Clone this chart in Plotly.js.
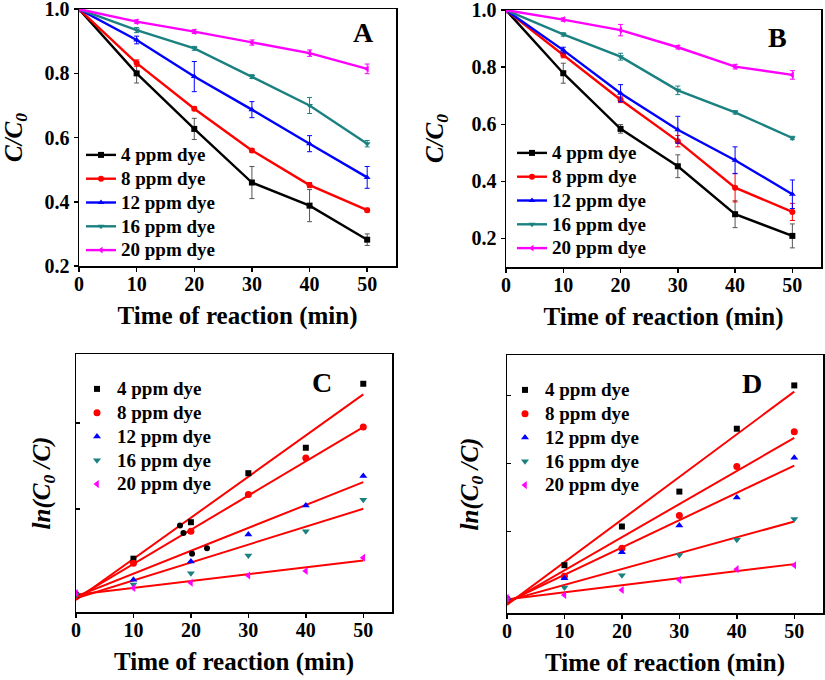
<!DOCTYPE html>
<html>
<head>
<meta charset="utf-8">
<script src="https://cdn.plot.ly/plotly-3.0.1.min.js"></script>
<style>html,body{margin:0;padding:0;background:#fff;}#chart{width:825px;height:680px;}</style>
</head>
<body>
<div id="chart"></div>
<script>
// ---------- shared ----------
const times = [0, 10, 20, 30, 40, 50];
const seriesNames = ['4 ppm dye', '8 ppm dye', '12 ppm dye', '16 ppm dye', '20 ppm dye'];
const seriesColors = ['#000000', '#ff0000', '#0000ff', '#1b8080', '#ff00ff'];
const errColors = ['#555555', '#ff0000', '#0000ff', '#1b8080', '#ff00ff'];
const seriesSymbols = ['square', 'circle', 'triangle-up', 'triangle-down', 'triangle-left'];

// ---------- panel A : C/C0 ----------
const a4 = [1.0, 0.800, 0.627, 0.460, 0.388, 0.282];
const a8 = [1.0, 0.832, 0.690, 0.560, 0.452, 0.374];
const a12 = [1.0, 0.904, 0.790, 0.687, 0.581, 0.476];
const a16 = [1.0, 0.935, 0.878, 0.790, 0.700, 0.581];
const a20 = [1.0, 0.961, 0.930, 0.896, 0.863, 0.814];
const aErr4 = [0, 0.030, 0.033, 0.050, 0.050, 0.018];
const aErr8 = [0, 0.010, 0.006, 0.006, 0.008, 0.006];
const aErr12 = [0, 0.012, 0.047, 0.025, 0.025, 0.034];
const aErr16 = [0, 0.008, 0.006, 0.006, 0.025, 0.010];
const aErr20 = [0, 0.006, 0.006, 0.008, 0.010, 0.015];

// ---------- panel B : C/C0 ----------
const b4 = [1.0, 0.779, 0.584, 0.453, 0.285, 0.209];
const b8 = [1.0, 0.843, 0.686, 0.541, 0.378, 0.293];
const b12 = [1.0, 0.860, 0.709, 0.581, 0.474, 0.355];
const b16 = [1.0, 0.915, 0.837, 0.719, 0.642, 0.552];
const b20 = [1.0, 0.967, 0.930, 0.870, 0.802, 0.773];
const bErr4 = [0, 0.035, 0.015, 0.040, 0.047, 0.042];
const bErr8 = [0, 0.010, 0.010, 0.020, 0.050, 0.030];
const bErr12 = [0, 0.010, 0.030, 0.047, 0.047, 0.050];
const bErr16 = [0, 0.006, 0.012, 0.015, 0.006, 0.006];
const bErr20 = [0, 0.006, 0.020, 0.006, 0.008, 0.015];

// ---------- panel C : ln(C0/C) ----------
const c4 = [0.0, 0.210, 0.422, 0.707, 0.855, 1.227];
const c8 = [0.0, 0.184, 0.370, 0.583, 0.795, 0.975];
const c12 = [0.01, 0.087, 0.194, 0.351, 0.519, 0.690];
const c16 = [0.0, 0.060, 0.126, 0.229, 0.370, 0.552];
const c20 = [0.01, 0.040, 0.070, 0.112, 0.138, 0.215];
const cExtraX = [18.1, 18.7, 20.2, 22.8];
const cExtraY = [0.403, 0.359, 0.238, 0.271];
const fitX = [0, 50];
const cFitStart = [-0.03, -0.02, -0.01, -0.02, 0.0];
const cFitEnd = [1.165, 0.975, 0.655, 0.500, 0.200];

// ---------- panel D : ln(C0/C) ----------
const d4 = [0.0, 0.252, 0.537, 0.794, 1.257, 1.576];
const d8 = [0.0, 0.171, 0.377, 0.618, 0.979, 1.235];
const d12 = [0.01, 0.156, 0.348, 0.544, 0.750, 1.043];
const d16 = [0.0, 0.087, 0.178, 0.328, 0.439, 0.593];
const d20 = [0.01, 0.033, 0.070, 0.144, 0.223, 0.252];
const dFitStart = [-0.04, -0.03, -0.02, -0.01, 0.0];
const dFitEnd = [1.530, 1.190, 0.986, 0.574, 0.260];

const aSeries = [a4, a8, a12, a16, a20];
const aErrs = [aErr4, aErr8, aErr12, aErr16, aErr20];
const bSeries = [b4, b8, b12, b16, b20];
const bErrs = [bErr4, bErr8, bErr12, bErr16, bErr20];
const cSeries = [c4, c8, c12, c16, c20];
const dSeries = [d4, d8, d12, d16, d20];

const FONT = '"Liberation Serif", "Times New Roman", Times, "DejaVu Serif", serif';
const legendLabel = n => '<span style="font-size:19px">' + n + '</span>';
const traces = [];

function lineTraces(series, errs, xa, ya, leg) {
  series.forEach((ys, i) => {
    traces.push({
      type: 'scatter', mode: 'lines+markers',
      x: times, y: ys, name: legendLabel(seriesNames[i]),
      xaxis: xa, yaxis: ya, legend: leg,
      line: {color: seriesColors[i], width: 2.4},
      marker: {color: seriesColors[i], symbol: seriesSymbols[i], size: 6},
      error_y: {type: 'data', array: errs[i], visible: true, color: errColors[i], thickness: 1, width: 2.5}
    });
  });
}
lineTraces(aSeries, aErrs, 'x', 'y', 'legend');
lineTraces(bSeries, bErrs, 'x2', 'y2', 'legend2');

function scatterTraces(series, starts, ends, xa, ya, leg) {
  series.forEach((ys, i) => {
    traces.push({
      type: 'scatter', mode: 'lines', x: fitX, y: [starts[i], ends[i]],
      xaxis: xa, yaxis: ya, showlegend: false, hoverinfo: 'skip',
      line: {color: '#ff0000', width: 2}
    });
  });
  series.forEach((ys, i) => {
    traces.push({
      type: 'scatter', mode: 'markers',
      x: times, y: ys, name: legendLabel(seriesNames[i]),
      xaxis: xa, yaxis: ya, legend: leg,
      marker: {color: seriesColors[i], symbol: seriesSymbols[i], size: i === 0 ? 6 : 7}
    });
  });
}
scatterTraces(cSeries, cFitStart, cFitEnd, 'x3', 'y3', 'legend3');
traces.push({
  type: 'scatter', mode: 'markers', x: cExtraX, y: cExtraY, xaxis: 'x3', yaxis: 'y3',
  showlegend: false, marker: {color: '#000000', symbol: 'circle', size: 6}
});
scatterTraces(dSeries, dFitStart, dFitEnd, 'x4', 'y4', 'legend4');

const W = 825, H = 680;
function xd(a, b) { return [a / W, b / W]; }
function yd(top, bottom) { return [1 - bottom / H, 1 - top / H]; }

function xAxis(dom, anchor) {
  return {
    domain: dom, anchor: anchor, range: [0, 55], tickvals: [0, 10, 20, 30, 40, 50],
    showline: true, mirror: true, linecolor: '#000', linewidth: 1.5,
    ticks: 'outside', ticklen: 4, tickwidth: 1.5, tickcolor: '#000',
    ticklabelstandoff: -5, ticklabeloverflow: 'allow',
    showgrid: false, zeroline: false,
    tickfont: {size: 20, weight: 'bold', family: FONT},
    title: {text: 'Time of reaction (min)', font: {size: 25, weight: 'bold', family: FONT}, standoff: 13}
  };
}
function yAxis(dom, anchor, range, tickvals, labels, titleText, standoff) {
  return {
    domain: dom, anchor: anchor, range: range, tickvals: tickvals, tickformat: '.1f',
    showticklabels: labels, ticklabeloverflow: 'allow',
    showline: true, mirror: true, linecolor: '#000', linewidth: 1.5,
    ticks: labels ? 'outside' : 'inside', ticklen: 4, tickwidth: 1.5, tickcolor: '#000',
    showgrid: false, zeroline: false,
    tickfont: {size: 20, weight: 'bold', family: FONT},
    title: {text: titleText, font: {size: 25, weight: 'bold', style: 'italic', family: FONT}, standoff: standoff}
  };
}

const legBase = {
  bgcolor: 'rgba(0,0,0,0)', borderwidth: 0, tracegroupgap: 0,
  font: {size: 16, weight: 'bold', family: FONT, color: '#000'},
  xanchor: 'left', yanchor: 'top', itemwidth: 30
};

const layout = {
  width: W, height: H,
  margin: {l: 0, r: 0, t: 0, b: 0},
  paper_bgcolor: '#fff', plot_bgcolor: '#fff',
  font: {family: FONT, color: '#000', size: 19},
  showlegend: true,
  xaxis: xAxis(xd(79, 396), 'y'),
  yaxis: yAxis(yd(9, 266), 'x', [0.2, 1.0005], [0.2, 0.4, 0.6, 0.8, 1.0], true, 'C/C<sub>0</sub>', 21),
  xaxis2: xAxis(xd(506, 821), 'y2'),
  yaxis2: yAxis(yd(10, 267), 'x2', [0.1, 1.0005], [0.2, 0.4, 0.6, 0.8, 1.0], true, 'C/C<sub>0</sub>', 21),
  xaxis3: xAxis(xd(76, 392), 'y3'),
  yaxis3: yAxis(yd(354, 612), 'x3', [-0.1, 1.4], [0.5, 1.0], false, 'ln(C<sub>0</sub> /C)', 17),
  xaxis4: xAxis(xd(507, 823), 'y4'),
  yaxis4: yAxis(yd(355, 613), 'x4', [-0.1, 1.8], [0.5, 1.0, 1.5], false, 'ln(C<sub>0</sub> /C)', 20),
  legend: Object.assign({}, legBase, {x: 81 / W, y: 1 - 138 / H}),
  legend2: Object.assign({}, legBase, {x: 512 / W, y: 1 - 136 / H}),
  legend3: Object.assign({}, legBase, {x: 77 / W, y: 1 - 372 / H}),
  legend4: Object.assign({}, legBase, {x: 505 / W, y: 1 - 373 / H}),
  annotations: [
    {text: 'A', x: 363 / W, y: 1 - 32 / H},
    {text: 'B', x: 777 / W, y: 1 - 37 / H},
    {text: 'C', x: 322 / W, y: 1 - 382 / H},
    {text: 'D', x: 752 / W, y: 1 - 383 / H}
  ].map(a => Object.assign(a, {xref: 'paper', yref: 'paper', showarrow: false,
    xanchor: 'center', yanchor: 'middle', font: {size: 28, weight: 'bold', family: FONT, color: '#000'}}))
};

Plotly.newPlot('chart', traces, layout, {displayModeBar: false, staticPlot: true});
</script>
</body>
</html>
